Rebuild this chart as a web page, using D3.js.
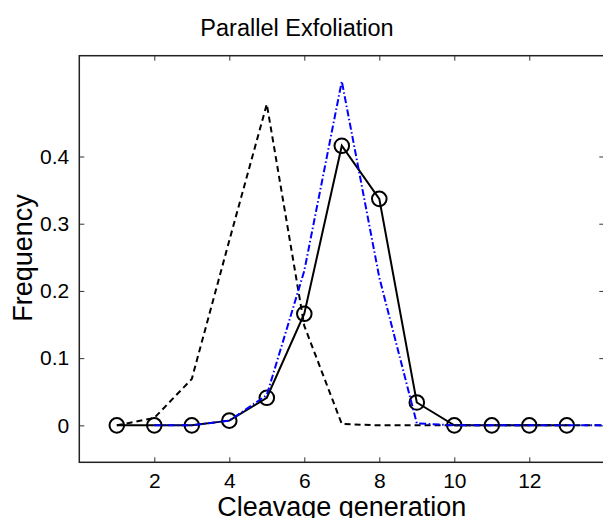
<!DOCTYPE html>
<html>
<head>
<meta charset="utf-8">
<script src="https://cdn.jsdelivr.net/npm/d3@7"></script>
<style>
  body { margin: 0; background: #fff; }
  text { font-family: "Liberation Sans", Arial, Helvetica, sans-serif; fill: #000; }
</style>
</head>
<body>
<div id="viz"></div>
<script>
// data
const generations = [1, 2, 3, 4, 5, 6, 7, 8, 9, 10, 11, 12, 13];
const observed = [0, 0, 0, 0.007, 0.041, 0.166, 0.416, 0.337, 0.034, 0, 0, 0, 0];

const dashedGenerations = [1, 2, 3, 4, 5, 6, 7, 8, 9, 10, 11, 12, 13, 14];
const dashedModel = [0, 0.011, 0.069, 0.275, 0.478, 0.148, 0.002, 0, 0, 0, 0, 0, 0, 0];

const blueGenerations = [2, 3, 4, 5, 6, 7, 8, 9, 10, 11, 12, 13, 14];
const blueModel = [0, 0, 0.007, 0.045, 0.23, 0.512, 0.22, 0.003, 0, 0, 0, 0, 0];

const xTicks = [2, 4, 6, 8, 10, 12];
const yTicks = [0, 0.1, 0.2, 0.3, 0.4];

function createViz() {

  let dimensions = {
    width: 603,
    height: 518,
    margin: { top: 55.7, right: -1.3, bottom: 55.7, left: 79.3 },
  }
  dimensions.boundedWidth = dimensions.width - dimensions.margin.left - dimensions.margin.right
  dimensions.boundedHeight = dimensions.height - dimensions.margin.top - dimensions.margin.bottom

  const wrapper = d3.select('#viz')
    .append('svg')
    .attr('width', dimensions.width)
    .attr('height', dimensions.height)

  const chart = wrapper.append('g')
    .attr('transform', `translate(${dimensions.margin.left},${dimensions.margin.top})`)

  // scales
  const xScale = d3.scaleLinear()
    .domain([0, 14])
    .range([0, dimensions.boundedWidth])

  const yScale = d3.scaleLinear()
    .domain([-0.055, 0.55])
    .range([dimensions.boundedHeight, 0])

  // axes, ticks pointing inward on all four sides
  const tickLen = 5
  const fmt = d => d === 0 ? '0' : d3.format('.1f')(d)

  const xBottom = chart.append('g')
    .attr('transform', `translate(0,${dimensions.boundedHeight})`)
    .call(d3.axisBottom(xScale).tickValues(xTicks).tickSize(-tickLen).tickPadding(11))
  const xTop = chart.append('g')
    .call(d3.axisTop(xScale).tickValues(xTicks).tickSize(-tickLen).tickFormat(''))
  const yLeft = chart.append('g')
    .call(d3.axisLeft(yScale).tickValues(yTicks).tickSize(-tickLen).tickPadding(10).tickFormat(fmt))
  const yRight = chart.append('g')
    .attr('transform', `translate(${dimensions.boundedWidth},0)`)
    .call(d3.axisRight(yScale).tickValues(yTicks).tickSize(-tickLen).tickFormat(''))

  ;[xBottom, xTop, yLeft, yRight].forEach(ax => {
    ax.select('.domain').remove()
    ax.selectAll('.tick line').attr('stroke', '#333').attr('stroke-width', 1)
    ax.selectAll('.tick text').style('font-size', '21px').attr('fill', '#000')
  })

  // frame
  chart.append('rect')
    .attr('x', 0)
    .attr('y', 0)
    .attr('width', dimensions.boundedWidth)
    .attr('height', dimensions.boundedHeight)
    .attr('fill', 'none')
    .attr('stroke', '#222')
    .attr('stroke-width', 1.5)

  // lines
  const line = d3.line()
    .x(d => xScale(d[0]))
    .y(d => yScale(d[1]))

  const observedPts = generations.map((g, i) => [g, observed[i]])
  const dashedPts = dashedGenerations.map((g, i) => [g, dashedModel[i]])
  const bluePts = blueGenerations.map((g, i) => [g, blueModel[i]])

  chart.append('path')
    .attr('d', line(observedPts))
    .attr('fill', 'none')
    .attr('stroke', '#000')
    .attr('stroke-width', 2)

  chart.append('g')
    .selectAll('circle')
    .data(observedPts)
    .join('circle')
    .attr('cx', d => xScale(d[0]))
    .attr('cy', d => yScale(d[1]))
    .attr('r', 7.3)
    .attr('fill', 'none')
    .attr('stroke', '#000')
    .attr('stroke-width', 2)

  chart.append('path')
    .attr('d', line(dashedPts))
    .attr('fill', 'none')
    .attr('stroke', '#000')
    .attr('stroke-width', 2)
    .attr('stroke-dasharray', '6,4')

  chart.append('path')
    .attr('d', line(bluePts))
    .attr('fill', 'none')
    .attr('stroke', '#0000ff')
    .attr('stroke-width', 2)
    .attr('stroke-dasharray', '7,2.5,1.5,2.5')

  // labels
  wrapper.append('text')
    .attr('x', 297)
    .attr('y', 36)
    .attr('text-anchor', 'middle')
    .style('font-size', '23.5px')
    .text('Parallel Exfoliation')

  wrapper.append('text')
    .attr('x', dimensions.margin.left + dimensions.boundedWidth / 2)
    .attr('y', 515.5)
    .attr('text-anchor', 'middle')
    .style('font-size', '27px')
    .text('Cleavage generation')

  wrapper.append('text')
    .attr('transform', `translate(32,${dimensions.margin.top + yScale(0.2) - 33}) rotate(-90)`)
    .attr('text-anchor', 'middle')
    .style('font-size', '27px')
    .text('Frequency')
}

createViz();
</script>
</body>
</html>
